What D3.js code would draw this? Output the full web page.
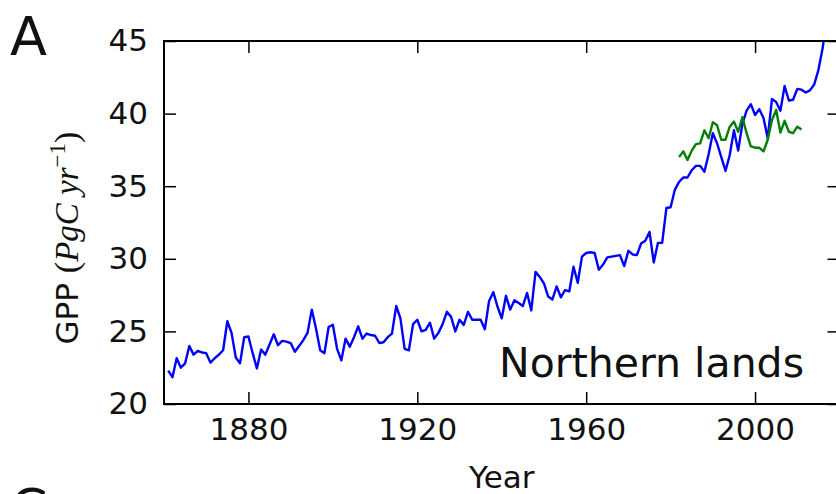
<!DOCTYPE html>
<html>
<head>
<meta charset="utf-8">
<script src="https://cdn.jsdelivr.net/npm/d3@7"></script>
<style>
  html, body { margin: 0; padding: 0; background: #fff; }
  svg { display: block; }
</style>
</head>
<body>
<svg id="chart" width="836" height="494"></svg>
<script>
// Annual GPP over northern lands (PgC per year)
const modelStartYear = 1861;
const modelGPP = [
  22.3, 21.85, 23.15, 22.5, 22.8, 24.0, 23.4, 23.65, 23.55, 23.5,
  22.85, 23.15, 23.4, 23.7, 25.7, 24.9, 23.2, 22.8, 24.6, 24.65,
  23.5, 22.45, 23.75, 23.4, 24.1, 24.8, 24.05, 24.35, 24.3, 24.2,
  23.6, 24.0, 24.4, 24.9, 26.5, 25.2, 23.7, 23.5, 25.3, 25.45,
  23.8, 23.0, 24.5, 23.95, 24.6, 25.35, 24.5, 24.85, 24.75, 24.7,
  24.2, 24.25, 24.6, 24.85, 26.75, 25.9, 23.8, 23.7, 25.5, 25.8,
  25.0, 25.1, 25.6, 24.5, 24.9, 25.5, 26.35, 26.0, 25.0, 25.8,
  25.45, 26.35, 25.8, 25.8, 25.8, 25.15, 27.1, 27.7, 26.7, 25.9,
  27.45, 26.5, 27.15, 26.95, 26.75, 27.65, 26.45, 29.1, 28.75, 28.3,
  27.4, 27.2, 28.1, 27.35, 27.85, 27.75, 29.45, 28.35, 30.15, 30.4,
  30.45, 30.4, 29.25, 29.6, 30.1, 30.15, 30.2, 30.25, 29.5, 30.55,
  30.3, 30.25, 31.05, 31.25, 31.85, 29.75, 31.1, 31.1, 33.5, 33.55,
  34.75, 35.3, 35.6, 35.6, 36.1, 36.4, 36.4, 36.0, 37.2, 38.65,
  37.95, 37.0, 36.05, 37.15, 38.85, 37.45, 39.3, 40.2, 40.65, 39.9,
  40.3, 39.7, 38.3, 41.0, 40.8, 40.2, 41.9, 40.9, 40.95, 41.7,
  41.65, 41.45, 41.6, 42.0, 43.0, 44.5, 46.5
];

const obsStartYear = 1982;
const obsGPP = [
  37.0, 37.4, 36.8, 37.45, 37.9, 37.95, 38.85, 38.3, 39.4, 39.2,
  38.2, 38.2, 39.1, 39.45, 38.75, 39.75, 38.65, 37.75, 37.65, 37.65,
  37.4, 38.2, 39.55, 40.25, 38.7, 39.5, 38.75, 38.65, 39.1, 38.9
];

const xTicks = [1880, 1920, 1960, 2000];
const yTicks = [20, 25, 30, 35, 40, 45];
const panelLabel = "A";
const nextPanelLabel = "C";
const regionLabel = "Northern lands";
const xLabel = "Year";

const toSeries = (start, vals) => vals.map((v, i) => ({ year: start + i, value: v }));
const modelSeries = toSeries(modelStartYear, modelGPP);
const obsSeries = toSeries(obsStartYear, obsGPP);

const svg = d3.select("#chart");
const plotL = 164, plotR = 839.5, plotT = 41, plotB = 404;

const x = d3.scaleLinear().domain([1860, 2020]).range([plotL, plotR]);
const y = d3.scaleLinear().domain([20, 45]).range([plotB, plotT]);

const sans = "'DejaVu Sans', 'Bitstream Vera Sans', sans-serif";
const serif = "'Liberation Serif', 'DejaVu Serif', serif";

svg.append("defs").append("clipPath").attr("id", "plotClip")
  .append("rect").attr("x", plotL).attr("y", plotT)
  .attr("width", plotR - plotL).attr("height", plotB - plotT);

const line = d3.line().x(d => x(d.year)).y(d => y(d.value));

const plot = svg.append("g").attr("clip-path", "url(#plotClip)");
plot.append("path").datum(modelSeries)
  .attr("d", line).attr("fill", "none")
  .attr("stroke", "#0000ff").attr("stroke-width", 2.4)
  .attr("stroke-linejoin", "round");
plot.append("path").datum(obsSeries)
  .attr("d", line).attr("fill", "none")
  .attr("stroke", "#008000").attr("stroke-width", 2.4)
  .attr("stroke-linejoin", "round");

// Axes: inward ticks on all four sides
const tickLen = 12;
const styleAxis = g => {
  g.select(".domain").remove();
  g.selectAll(".tick line").attr("stroke", "#000").attr("stroke-width", 1.5);
  g.selectAll(".tick text").attr("font-family", sans).attr("font-size", 31).attr("fill", "#111");
};

svg.append("g").attr("transform", `translate(0,${plotB})`)
  .call(d3.axisBottom(x).tickValues(xTicks).tickFormat(d3.format("d"))
        .tickSizeInner(-tickLen).tickSizeOuter(0).tickPadding(14))
  .call(styleAxis)
  .selectAll(".tick text").attr("dy", "0.71em");

svg.append("g").attr("transform", `translate(0,${plotT})`)
  .call(d3.axisTop(x).tickValues(xTicks).tickFormat("")
        .tickSizeInner(-tickLen).tickSizeOuter(0))
  .call(styleAxis);

svg.append("g").attr("transform", `translate(${plotL},0)`)
  .call(d3.axisLeft(y).tickValues(yTicks).tickFormat(d3.format("d"))
        .tickSizeInner(-tickLen).tickSizeOuter(0).tickPadding(16))
  .call(styleAxis);

svg.append("g").attr("transform", `translate(${plotR},0)`)
  .call(d3.axisRight(y).tickValues(yTicks).tickFormat("")
        .tickSizeInner(-tickLen).tickSizeOuter(0))
  .call(styleAxis);

// Frame
svg.append("rect").attr("x", plotL).attr("y", plotT)
  .attr("width", plotR - plotL).attr("height", plotB - plotT)
  .attr("fill", "none").attr("stroke", "#000").attr("stroke-width", 2);

// Region label inside the plot
svg.append("text").attr("x", 804).attr("y", 377)
  .attr("text-anchor", "end").attr("font-family", sans)
  .attr("font-size", 41).attr("fill", "#111").text(regionLabel);

// x-axis title
svg.append("text").attr("x", (plotL + plotR) / 2).attr("y", 488)
  .attr("text-anchor", "middle").attr("font-family", sans)
  .attr("font-size", 31).attr("fill", "#111").text(xLabel);

// y-axis title with unit in math italics
const yl = svg.append("text")
  .attr("transform", "translate(78,238) rotate(-90)")
  .attr("text-anchor", "middle").attr("font-size", 31).attr("fill", "#111");
yl.append("tspan").attr("font-family", sans).text("GPP ");
yl.append("tspan").attr("font-family", serif).attr("font-size", 34).text("(");
yl.append("tspan").attr("font-family", serif).attr("font-style", "italic").attr("font-size", 33).text("PgC yr");
yl.append("tspan").attr("font-family", serif).attr("font-size", 23).attr("dy", -13).text("−");
yl.append("tspan").attr("font-family", serif).attr("font-size", 23).text("1");
yl.append("tspan").attr("font-family", serif).attr("font-size", 34).attr("dy", 13).text(")");

// Panel letters
svg.append("text").attr("x", 10).attr("y", 55)
  .attr("font-family", sans).attr("font-size", 54).attr("fill", "#111").text(panelLabel);
svg.append("text").attr("x", 10).attr("y", 527)
  .attr("font-family", sans).attr("font-size", 54).attr("fill", "#111").text(nextPanelLabel);
</script>
</body>
</html>
